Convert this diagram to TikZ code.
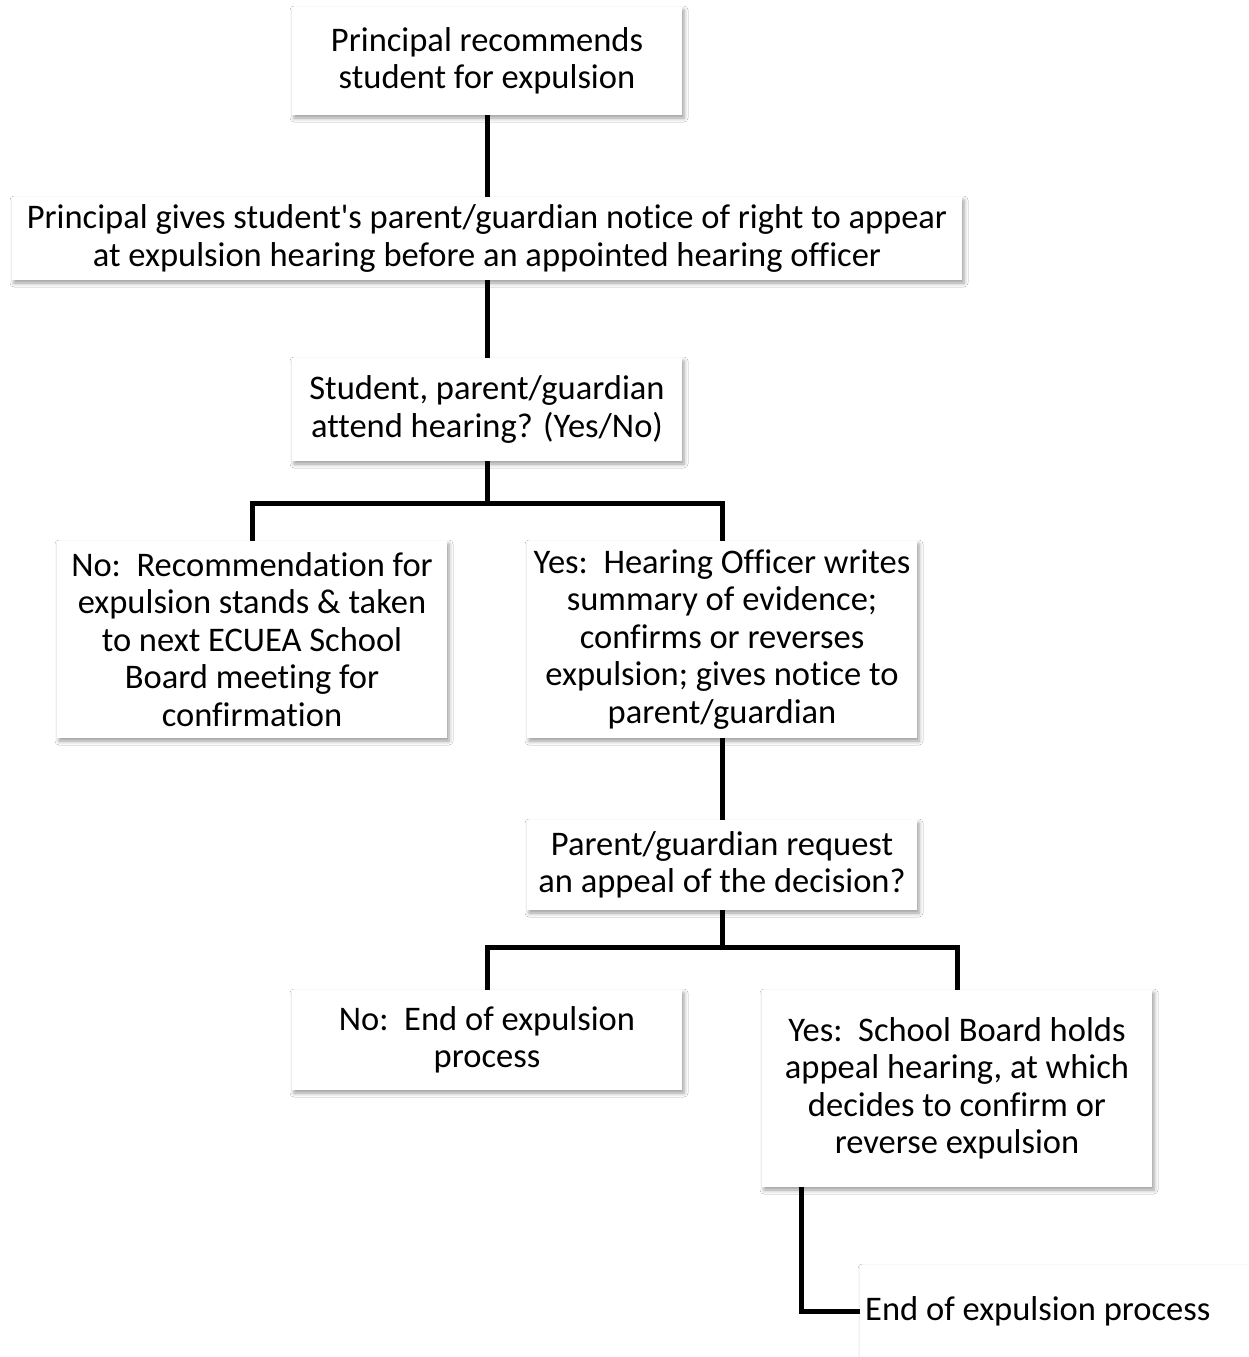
\documentclass[tikz,border=0pt]{standalone}
\usepackage{fontspec}
\setmainfont{Carlito}[Ligatures=NoCommon]
\usetikzlibrary{shadows.blur}
\tikzset{
  box/.style={fill=white, inner sep=0pt, align=center,
    font=\fontsize{34.5}{37.5}\selectfont,
    blur shadow={shadow xshift=2pt, shadow yshift=-3pt, shadow blur radius=4pt, shadow opacity=40}},
  plain/.style={inner sep=0pt, anchor=west, font=\fontsize{34.5}{37.5}\selectfont},
  conn/.style={line width=5pt, black}
}
\begin{document}
\begin{tikzpicture}[x=1pt,y=-1pt]
\useasboundingbox[fill=white] (0,0) rectangle (1248,1357);
\node[box, minimum width=390pt, minimum height=108pt] (n1) at (487,61) {Principal recommends\\student for expulsion};
\node[box, minimum width=950pt, minimum height=83pt] (n2) at (487,238.5) {Principal gives student\textquotesingle s parent/guardian notice of right to appear\\at expulsion hearing before an appointed hearing officer};
\node[box, minimum width=390pt, minimum height=103pt] (n3) at (487,409.5) {Student, parent/guardian\\attend hearing? (Yes/No)};
\node[box, minimum width=390pt, minimum height=197pt] (n4) at (252,639.5) {No:\ \ Recommendation for\\expulsion stands \& taken\\to next ECUEA School\\Board meeting for\\confirmation};
\node[box, minimum width=390pt, minimum height=197pt] (n5) at (722,639.5) {Yes:\ \ Hearing Officer writes\\summary of evidence;\\confirms or reverses\\expulsion; gives notice to\\parent/guardian};
\node[box, minimum width=390pt, minimum height=90pt] (n6) at (722,865) {Parent/guardian request\\an appeal of the decision?};
\node[box, minimum width=390pt, minimum height=100pt] (n7) at (487,1040) {No:\ \ End of expulsion\\process};
\node[box, minimum width=390pt, minimum height=197pt] (n8) at (957,1088.5) {Yes:\ \ School Board holds\\appeal hearing, at which\\decides to confirm or\\reverse expulsion};
\node[box, anchor=west, minimum width=400pt, minimum height=100pt] (n9box) at (860,1315) {};
\node[plain] (n9) at (865,1311) {End of expulsion process};
\coordinate (j1) at (487,503);
\coordinate (j2) at (722,947);
\draw[conn] (n1) -- (n2);
\draw[conn] (n2) -- (n3);
\draw[conn] (n3.south) -- (j1);
\draw[conn] (n4.north) |- (j1) -| (n5.north);
\draw[conn] (n5) -- (n6);
\draw[conn] (n6.south) -- (j2);
\draw[conn] (n7.north) |- (j2) -| (n8.north);
\draw[conn] ([xshift=40pt]n8.south west) |- (n9box.west |- n9.west);
\end{tikzpicture}
\end{document}
